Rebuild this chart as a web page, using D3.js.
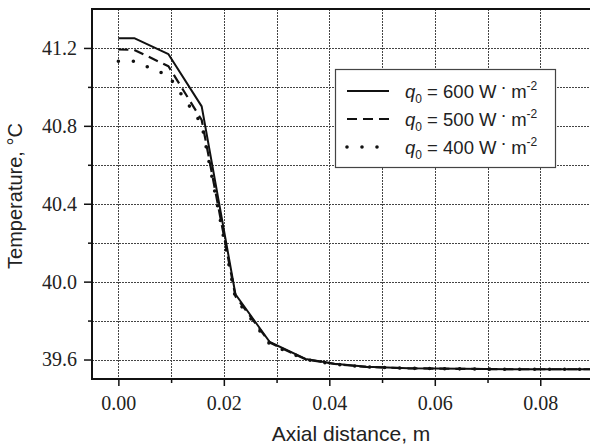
<!DOCTYPE html>
<html>
<head>
<meta charset="utf-8">
<script src="https://cdn.jsdelivr.net/npm/d3@7"></script>
<style>
  body { margin: 0; background: #fff; }
  svg { display: block; }
</style>
</head>
<body>
<svg id="chart" width="590" height="445"></svg>
<script>
// axial position, m
const distance = [0, 0.003, 0.0095, 0.0158, 0.0222, 0.0287, 0.0355, 0.041, 0.047, 0.055, 0.065, 0.075, 0.09];
const temp600 = [41.25, 41.25, 41.168, 40.90, 39.935, 39.69, 39.603, 39.578, 39.563, 39.555, 39.552, 39.55, 39.55];
const temp500 = [41.192, 41.19, 41.106, 40.83, 39.925, 39.687, 39.601, 39.577, 39.562, 39.555, 39.552, 39.55, 39.55];
const temp400 = [41.132, 41.132, 41.058, 40.81, 39.915, 39.68, 39.60, 39.576, 39.562, 39.555, 39.552, 39.55, 39.55];
const seriesNames = ["600", "500", "400"];

const xMajor = [0, 0.02, 0.04, 0.06, 0.08];
const xMinor = [0.01, 0.03, 0.05, 0.07];
const yMajor = [39.6, 40.0, 40.4, 40.8, 41.2];
const yMinor = [39.8, 40.2, 40.6, 41.0];

const serif = "Liberation Serif, Times New Roman, serif";
const sans = "Liberation Sans, Arial, sans-serif";

const svg = d3.select("#chart");
const margin = { top: 9, left: 92, bottom: 379, right: 593 };

const x = d3.scaleLinear().domain([-0.005, 0.09]).range([margin.left, margin.right]);
const y = d3.scaleLinear().domain([39.5, 41.4]).range([margin.bottom, margin.top]);

svg.append("clipPath").attr("id", "plot")
  .append("rect")
  .attr("x", margin.left).attr("y", margin.top)
  .attr("width", margin.right - margin.left).attr("height", margin.bottom - margin.top);

// grid
const grid = svg.append("g").attr("stroke", "#444").attr("stroke-width", 1).attr("stroke-dasharray", "2,1");
xMajor.concat(xMinor).forEach(v => {
  grid.append("line")
    .attr("x1", Math.round(x(v)) + 0.5).attr("x2", Math.round(x(v)) + 0.5)
    .attr("y1", margin.top).attr("y2", margin.bottom);
});
yMajor.concat(yMinor).forEach(v => {
  grid.append("line")
    .attr("x1", margin.left).attr("x2", margin.right)
    .attr("y1", Math.round(y(v)) + 0.5).attr("y2", Math.round(y(v)) + 0.5);
});

// lines
const series = [
  { name: seriesNames[0], values: temp600, dash: null, width: 2, cap: "butt" },
  { name: seriesNames[1], values: temp500, dash: "10,6", width: 2.2, cap: "butt" },
  { name: seriesNames[2], values: temp400, dash: "0,15", width: 3.6, cap: "round" }
];

const line = d3.line()
  .x((d, i) => x(distance[i]))
  .y(d => y(d));

const lines = svg.append("g").attr("clip-path", "url(#plot)");
series.forEach(s => {
  lines.append("path")
    .datum(s.values)
    .attr("fill", "none")
    .attr("stroke", "#111")
    .attr("stroke-width", s.width)
    .attr("stroke-linecap", s.cap)
    .attr("stroke-linejoin", "round")
    .attr("stroke-dasharray", s.dash)
    .attr("d", line);
});

// axes
const fmt2 = d3.format(".2f");
const fmt1 = d3.format(".1f");

const xAxis = svg.append("g")
  .attr("transform", `translate(0,${margin.bottom})`)
  .call(d3.axisBottom(x).tickValues(xMajor).tickFormat(fmt2).tickSize(7).tickPadding(10));
const xAxisMinor = svg.append("g")
  .attr("transform", `translate(0,${margin.bottom})`)
  .call(d3.axisBottom(x).tickValues(xMinor).tickFormat("").tickSize(4));
const yAxis = svg.append("g")
  .attr("transform", `translate(${margin.left},0)`)
  .call(d3.axisLeft(y).tickValues(yMajor).tickFormat(fmt1).tickSize(8).tickPadding(7));
const yAxisMinor = svg.append("g")
  .attr("transform", `translate(${margin.left},0)`)
  .call(d3.axisLeft(y).tickValues(yMinor).tickFormat("").tickSize(4));

[xAxis, xAxisMinor, yAxis, yAxisMinor].forEach(g => {
  g.attr("font-family", serif).attr("font-size", 20);
  g.select(".domain").remove();
  g.selectAll(".tick line").attr("stroke", "#111").attr("stroke-width", 1.5);
  g.selectAll(".tick text")
    .attr("fill", "#222")
    .style("font-family", serif)
    .style("font-size", "20px");
});

// frame
svg.append("rect")
  .attr("x", margin.left).attr("y", margin.top)
  .attr("width", margin.right - margin.left).attr("height", margin.bottom - margin.top)
  .attr("fill", "none").attr("stroke", "#111").attr("stroke-width", 2);

// axis titles
svg.append("text")
  .attr("x", 351).attr("y", 441)
  .attr("text-anchor", "middle")
  .attr("font-family", sans)
  .attr("font-size", "21px")
  .attr("fill", "#222")
  .text("Axial distance, m");

svg.append("text")
  .attr("transform", "translate(22,196) rotate(-90)")
  .attr("text-anchor", "middle")
  .attr("font-family", sans)
  .attr("font-size", "20px")
  .attr("fill", "#222")
  .text("Temperature, \u00B0C");

// legend
const legend = svg.append("g");
legend.append("rect")
  .attr("x", 335.5).attr("y", 69.5).attr("width", 220).attr("height", 98)
  .attr("fill", "#fff").attr("stroke", "#444").attr("stroke-width", 1.2);

series.forEach((s, i) => {
  const ry = 91 + i * 28;
  legend.append("line")
    .attr("x1", 347).attr("x2", s.cap === "round" ? 380 : 389)
    .attr("y1", ry).attr("y2", ry)
    .attr("stroke", "#111")
    .attr("stroke-width", s.width)
    .attr("stroke-linecap", s.cap)
    .attr("stroke-dasharray", s.dash);

  const t = legend.append("text")
    .attr("x", 405).attr("y", ry + 6.5)
    .attr("font-family", sans)
    .attr("font-size", "18.5px")
    .attr("fill", "#222");
  t.append("tspan").attr("font-style", "italic").text("q");
  t.append("tspan").attr("font-size", "12px").attr("dy", 5).text("0");
  t.append("tspan").attr("dy", -5).text(` = ${s.name} W `);
  t.append("tspan").attr("font-size", "13px").attr("font-weight", "bold").attr("dy", -6).text("\u00B7");
  t.append("tspan").attr("dy", 6).text(" m");
  t.append("tspan").attr("font-size", "12px").attr("dy", -8).text("-2");
});
</script>
</body>
</html>
